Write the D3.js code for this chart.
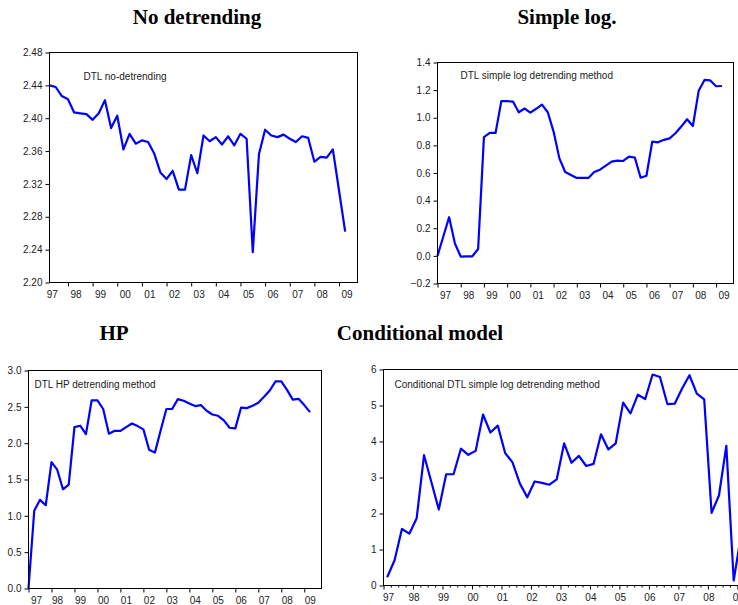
<!DOCTYPE html>
<html>
<head>
<meta charset="utf-8">
<script src="https://cdn.jsdelivr.net/npm/d3@7"></script>
<style>
  body { margin: 0; background: #fff; }
  svg { display: block; }
  .tick text { font-family: "Liberation Sans", Arial, sans-serif; font-size: 10px; fill: #222; }
</style>
</head>
<body>
<svg id="chart" width="738" height="605"></svg>
<script>
// quarterly series
const noDetrending = [2.440, 2.438, 2.427, 2.423, 2.407, 2.406, 2.405, 2.398, 2.406, 2.422,
  2.388, 2.403, 2.362, 2.381, 2.369, 2.373, 2.371, 2.357, 2.334, 2.326,
  2.336, 2.313, 2.313, 2.355, 2.333, 2.379, 2.372, 2.377, 2.368, 2.378,
  2.367, 2.381, 2.375, 2.237, 2.356, 2.386, 2.379, 2.377, 2.380, 2.375,
  2.371, 2.378, 2.376, 2.347, 2.353, 2.352, 2.362, 2.312, 2.262];

const simpleLog = [0.00, 0.14, 0.28, 0.09, -0.005, -0.003, -0.003, 0.05, 0.86, 0.89,
  0.89, 1.12, 1.12, 1.117, 1.04, 1.067, 1.037, 1.065, 1.095, 1.04,
  0.90, 0.706, 0.607, 0.585, 0.564, 0.564, 0.564, 0.607, 0.624, 0.653,
  0.682, 0.69, 0.687, 0.718, 0.711, 0.566, 0.58, 0.827, 0.822, 0.84,
  0.851, 0.888, 0.936, 0.989, 0.94, 1.195, 1.274, 1.27, 1.228, 1.23];

const hpDetrending = [0.0, 1.07, 1.22, 1.145, 1.74, 1.635, 1.365, 1.43, 2.22, 2.24,
  2.125, 2.59, 2.59, 2.47, 2.13, 2.17, 2.17, 2.22, 2.27, 2.235,
  2.19, 1.91, 1.87, 2.175, 2.47, 2.47, 2.606, 2.583, 2.546, 2.51,
  2.524, 2.446, 2.395, 2.377, 2.313, 2.212, 2.203, 2.49, 2.482, 2.514,
  2.556, 2.638, 2.725, 2.85, 2.85, 2.734, 2.60, 2.61, 2.524, 2.427];

const conditional = [0.23, 0.70, 1.57, 1.44, 1.87, 3.62, 2.87, 2.11, 3.09, 3.09,
  3.80, 3.63, 3.74, 4.75, 4.25, 4.44, 3.68, 3.42, 2.83, 2.45,
  2.89, 2.85, 2.80, 2.95, 3.95, 3.41, 3.60, 3.32, 3.38, 4.20,
  3.78, 3.95, 5.08, 4.78, 5.30, 5.18, 5.86, 5.79, 5.04, 5.05,
  5.47, 5.84, 5.33, 5.17, 2.02, 2.50, 3.88, 0.14, 1.40];

const yearLabels = ['97', '98', '99', '00', '01', '02', '03', '04', '05', '06', '07', '08', '09'];
const firstYear = 1997;

const ticks1 = [2.20, 2.24, 2.28, 2.32, 2.36, 2.40, 2.44, 2.48];
const ticks2 = [-0.2, 0.0, 0.2, 0.4, 0.6, 0.8, 1.0, 1.2, 1.4];
const ticks3 = [0.0, 0.5, 1.0, 1.5, 2.0, 2.5, 3.0];
const ticks4 = [0, 1, 2, 3, 4, 5, 6];

const titles = [
  { text: 'No detrending', x: 197, y: 24 },
  { text: 'Simple log.', x: 567, y: 24 },
  { text: 'HP', x: 114, y: 340 },
  { text: 'Conditional model', x: 420, y: 340 }
];

const svg = d3.select('#chart');

svg.selectAll('text.title')
  .data(titles)
  .enter()
  .append('text')
  .attr('class', 'title')
  .attr('x', d => d.x)
  .attr('y', d => d.y)
  .attr('text-anchor', 'middle')
  .attr('font-family', '"Liberation Serif", "Times New Roman", serif')
  .attr('font-weight', 'bold')
  .attr('font-size', 21)
  .text(d => d.text);

const drawPanel = cfg => {
  const x = d3.scaleLinear().domain(cfg.xDomain).range([cfg.left, cfg.right]);
  const y = d3.scaleLinear().domain(cfg.yDomain).range([cfg.bottom, cfg.top]);
  const g = svg.append('g');

  //y axis
  const yAxis = d3.axisLeft(y).tickValues(cfg.yTicks).tickFormat(cfg.yFormat)
    .tickSizeInner(4).tickSizeOuter(0);
  const yAxisGroup = g.append('g').attr('transform', `translate(${cfg.left},0)`).call(yAxis);
  yAxisGroup.select('.domain').remove();
  yAxisGroup.selectAll('line').attr('stroke', '#000');

  //quarter ticks (conditional panel only)
  if (cfg.minor) {
    const quarters = d3.range(cfg.xDomain[0], cfg.xDomain[1] + 0.001, 0.25)
      .filter(t => Math.abs(t - Math.round(t)) > 0.01);
    const minorAxis = d3.axisBottom(x).tickValues(quarters).tickFormat('')
      .tickSizeInner(2).tickSizeOuter(0);
    const minorGroup = g.append('g').attr('transform', `translate(0,${cfg.bottom})`).call(minorAxis);
    minorGroup.select('.domain').remove();
    minorGroup.selectAll('line').attr('stroke', '#000');
  }

  //year ticks
  const years = yearLabels.map((d, i) => firstYear + i);
  const xAxis = d3.axisBottom(x)
    .tickValues(years.filter(t => t >= cfg.xDomain[0] && t <= cfg.xDomain[1]))
    .tickFormat('')
    .tickSizeInner(4).tickSizeOuter(0);
  const xAxisGroup = g.append('g').attr('transform', `translate(0,${cfg.bottom})`).call(xAxis);
  xAxisGroup.select('.domain').remove();
  xAxisGroup.selectAll('line').attr('stroke', '#000');

  //year labels
  g.append('g').selectAll('text')
    .data(yearLabels)
    .enter()
    .append('text')
    .attr('x', (d, i) => x(firstYear + i) + (i === 0 ? cfg.firstShift : cfg.labelShift))
    .attr('y', cfg.bottom + 15)
    .attr('text-anchor', 'middle')
    .attr('font-family', '"Liberation Sans", Arial, sans-serif')
    .attr('font-size', 10)
    .attr('fill', '#222')
    .text(d => d);

  //series line
  const line = d3.line()
    .x((d, i) => x(cfg.start + i / 4 + cfg.offset))
    .y(d => y(d));

  g.append('path')
    .datum(cfg.values)
    .attr('fill', 'none')
    .attr('stroke', '#0000ff')
    .attr('stroke-width', 2.2)
    .attr('stroke-linejoin', 'round')
    .attr('d', line);

  //frame
  g.append('rect')
    .attr('x', cfg.left)
    .attr('y', cfg.top)
    .attr('width', cfg.right - cfg.left)
    .attr('height', cfg.bottom - cfg.top)
    .attr('fill', 'none')
    .attr('stroke', '#000')
    .attr('stroke-width', 1);

  //series name inside the plot
  g.append('text')
    .attr('x', cfg.left + cfg.labelX)
    .attr('y', cfg.top + cfg.labelY)
    .attr('font-family', '"Liberation Sans", Arial, sans-serif')
    .attr('font-size', 10)
    .attr('fill', '#222')
    .text(cfg.label);
};

drawPanel({
  values: noDetrending, start: 1997.25, offset: 0,
  left: 49.5, right: 357.5, top: 52.5, bottom: 282.5,
  xDomain: [1997.25, 2009.75], yDomain: [2.20, 2.48],
  yTicks: ticks1, yFormat: d3.format('.2f'),
  labelShift: 8, firstShift: 9,
  label: 'DTL no-detrending', labelX: 34, labelY: 27
});

drawPanel({
  values: simpleLog, start: 1997, offset: 0,
  left: 437.5, right: 733.5, top: 62.5, bottom: 283.5,
  xDomain: [1997, 2009.75], yDomain: [-0.2, 1.4],
  yTicks: ticks2, yFormat: d3.format('.1f'),
  labelShift: 8, firstShift: 8,
  label: 'DTL simple log detrending method', labelX: 23, labelY: 16
});

drawPanel({
  values: hpDetrending, start: 1997, offset: 0,
  left: 28.5, right: 321.5, top: 370.5, bottom: 588.5,
  xDomain: [1997, 2009.75], yDomain: [0, 3],
  yTicks: ticks3, yFormat: d3.format('.1f'),
  labelShift: 6, firstShift: 8,
  label: 'DTL HP detrending method', labelX: 6, labelY: 17.5
});

drawPanel({
  values: conditional, start: 1997, offset: 0.125, minor: true,
  left: 383.5, right: 759.5, top: 369.5, bottom: 585.5,
  xDomain: [1997, 2009.75], yDomain: [0, 6],
  yTicks: ticks4, yFormat: d3.format('d'),
  labelShift: 1, firstShift: 5,
  label: 'Conditional DTL simple log detrending method', labelX: 11, labelY: 18
});
</script>
</body>
</html>
